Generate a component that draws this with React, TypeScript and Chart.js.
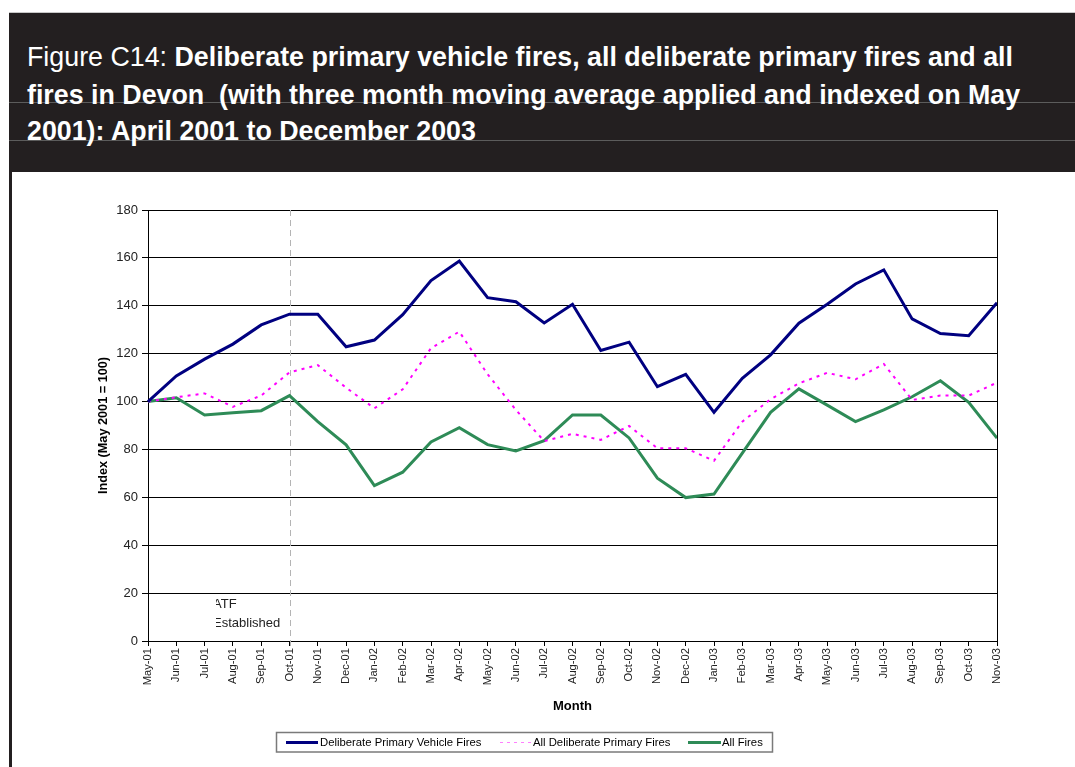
import React, { useEffect, useRef } from "react";
import { Chart, registerables } from "chart.js";

Chart.register(...registerables);

const months = [
  "May-01", "Jun-01", "Jul-01", "Aug-01", "Sep-01", "Oct-01", "Nov-01", "Dec-01",
  "Jan-02", "Feb-02", "Mar-02", "Apr-02", "May-02", "Jun-02", "Jul-02", "Aug-02",
  "Sep-02", "Oct-02", "Nov-02", "Dec-02", "Jan-03", "Feb-03", "Mar-03", "Apr-03",
  "May-03", "Jun-03", "Jul-03", "Aug-03", "Sep-03", "Oct-03", "Nov-03",
];

const vehicleFires = [
  100, 110.7, 117.7, 124, 132, 136.5, 136.5, 122.9,
  125.7, 136.3, 150.5, 158.7, 143.4, 141.7, 132.8, 140.6,
  121.3, 124.8, 106.2, 111.4, 95.5, 109.7, 119.5, 132.7,
  140.6, 149.1, 155, 134.5, 128.4, 127.5, 141.3,
];

const allDeliberateFires = [
  100, 101.8, 103.4, 97.8, 102.5, 112.2, 115.2, 105.8,
  97.2, 105.1, 122.3, 129.2, 111.4, 96.5, 83.5, 86.5,
  84, 89.8, 80.5, 80.5, 75.3, 91.6, 101, 107.6,
  112, 109.3, 115.7, 100.7, 102.5, 102.5, 107.9,
];

const allFires = [
  100, 101.6, 94.4, 95.3, 96.2, 102.5, 91.6, 81.9,
  64.9, 70.5, 83.1, 89.1, 82, 79.4, 83.7, 94.4,
  94.4, 84.8, 68, 59.9, 61.4, 78.5, 95.5, 105.3,
  98.5, 91.6, 96.5, 102, 108.7, 99.7, 84.7,
];

const seriesLabels = [
  "Deliberate Primary Vehicle Fires",
  "All Deliberate Primary Fires",
  "All Fires",
];

const yMin = 0;
const yMax = 180;
const yStep = 20;

const atfMonthIndex = 5; // Oct-01
const atfLabelLines = ["ATF", "Established"];

const xAxisTitle = "Month";
const yAxisTitle = "Index (May 2001 = 100)";

const FONT = "'Liberation Sans', Arial, Helvetica, sans-serif";

const extrasPlugin = {
  id: "extras",
  beforeDatasetsDraw(chart: any) {
    const { ctx, chartArea, scales } = chart;
    const x = Math.round(scales.x.getPixelForValue(atfMonthIndex)) + 0.5;
    ctx.save();
    ctx.strokeStyle = "#b4b4b4";
    ctx.lineWidth = 1;
    ctx.setLineDash([6, 4]);
    ctx.beginPath();
    ctx.moveTo(x, chartArea.top);
    ctx.lineTo(x, chartArea.bottom + 5);
    ctx.stroke();
    ctx.restore();

    ctx.save();
    ctx.beginPath();
    ctx.rect(x - 74.5, chartArea.top, 74, chartArea.bottom - chartArea.top);
    ctx.clip();
    ctx.fillStyle = "#222";
    ctx.font = `13px ${FONT}`;
    ctx.textAlign = "left";
    ctx.textBaseline = "middle";
    ctx.fillText(atfLabelLines[0], x - 77.5, chartArea.bottom - 37);
    ctx.fillText(atfLabelLines[1], x - 77.5, chartArea.bottom - 18);
    ctx.restore();
  },
  afterDraw(chart: any) {
    const { ctx, chartArea } = chart;
    ctx.save();
    // right border of plot
    ctx.strokeStyle = "#000";
    ctx.lineWidth = 1;
    ctx.beginPath();
    const rx = Math.round(chartArea.right) + 0.5;
    ctx.moveTo(rx, chartArea.top);
    ctx.lineTo(rx, chartArea.bottom);
    ctx.stroke();

    // legend
    const bx = 276.5, by = 732.5, bw = 496, bh = 19.5;
    ctx.strokeStyle = "#7a7a7a";
    ctx.lineWidth = 1.5;
    ctx.strokeRect(bx, by, bw, bh);
    const items = [
      { x0: 286, x1: 318, tx: 320 },
      { x0: 500, x1: 532, tx: 533 },
      { x0: 688, x1: 721, tx: 722 },
    ];
    const ly = 742.5;
    ctx.font = `11.3px ${FONT}`;
    ctx.textBaseline = "middle";
    ctx.textAlign = "left";
    chart.data.datasets.forEach((ds: any, i: number) => {
      const it = items[i];
      ctx.save();
      ctx.strokeStyle = ds.borderColor;
      ctx.lineWidth = i === 1 ? 1.2 : 3;
      ctx.setLineDash(i === 1 ? [3, 4] : []);
      if (i === 1) ctx.globalAlpha = 0.5;
      ctx.beginPath();
      ctx.moveTo(it.x0, ly);
      ctx.lineTo(it.x1, ly);
      ctx.stroke();
      ctx.restore();
      ctx.fillStyle = "#000";
      ctx.fillText(ds.label, it.tx, ly);
    });
    ctx.restore();
  },
};

export default function App() {
  const canvasRef = useRef<HTMLCanvasElement | null>(null);

  useEffect(() => {
    if (!canvasRef.current) return;
    const chart = new Chart(canvasRef.current, {
      type: "line",
      data: {
        labels: months,
        datasets: [
          {
            label: seriesLabels[0],
            data: vehicleFires,
            borderColor: "#000080",
            borderWidth: 3,
            pointRadius: 0,
            tension: 0,
            fill: false,
          },
          {
            label: seriesLabels[1],
            data: allDeliberateFires,
            borderColor: "#ff00ff",
            borderWidth: 2,
            borderDash: [3, 5],
            pointRadius: 0,
            tension: 0,
            fill: false,
          },
          {
            label: seriesLabels[2],
            data: allFires,
            borderColor: "#2e8b57",
            borderWidth: 3,
            pointRadius: 0,
            tension: 0,
            fill: false,
          },
        ],
      },
      options: {
        animation: false,
        responsive: false,
        maintainAspectRatio: false,
        layout: { padding: { left: 0, top: 210, right: 78, bottom: 46 } },
        plugins: {
          legend: { display: false },
          tooltip: { enabled: false },
          title: { display: false },
        },
        scales: {
          x: {
            type: "category",
            offset: false,
            grid: {
              display: true,
              drawOnChartArea: false,
              drawTicks: true,
              tickLength: 5,
              color: "#000",
              lineWidth: 1,
            },
            border: { display: true, color: "#000", width: 1 },
            ticks: {
              autoSkip: false,
              maxRotation: 90,
              minRotation: 90,
              padding: 2,
              color: "#222",
              font: { family: FONT, size: 11.2 },
            },
            title: {
              display: true,
              text: xAxisTitle,
              color: "#000",
              font: { family: FONT, size: 13, weight: "bold" },
              padding: { top: 0, bottom: 7 },
            },
            afterFit: (s: any) => {
              s.height = 80;
            },
          },
          y: {
            min: yMin,
            max: yMax,
            ticks: {
              stepSize: yStep,
              padding: 4,
              color: "#222",
              font: { family: FONT, size: 13 },
            },
            grid: { color: "#000", lineWidth: 1, tickLength: 6, drawTicks: true },
            border: { display: true, color: "#000", width: 1 },
            title: {
              display: true,
              text: yAxisTitle,
              color: "#000",
              font: { family: FONT, size: 12.7, weight: "bold" },
              padding: { top: 96, bottom: 0 },
            },
            afterFit: (s: any) => {
              s.width = 148;
            },
          },
        },
      },
      plugins: [extrasPlugin],
    } as any);
    return () => chart.destroy();
  }, []);

  const titleLine: React.CSSProperties = {
    position: "absolute",
    left: 18,
    color: "#fff",
    fontFamily: FONT,
    fontSize: 26.8,
    lineHeight: "27px",
    whiteSpace: "pre",
  };

  return (
    <div
      style={{
        position: "absolute",
        left: 0,
        top: 0,
        width: 1075,
        height: 767,
        overflow: "hidden",
        background: "#fff",
      }}
    >
      <canvas
        ref={canvasRef}
        width={1075}
        height={767}
        style={{ position: "absolute", left: 0, top: 0, width: 1075, height: 767 }}
      />
      <div
        style={{
          position: "absolute",
          left: 9,
          top: 172,
          width: 3,
          height: 595,
          background: "#231f20",
        }}
      />
      <div
        style={{
          position: "absolute",
          left: 9,
          top: 12,
          width: 1066,
          height: 160,
          background: "#231f20",
          borderTop: "1px solid #c8c8c8",
          boxSizing: "border-box",
        }}
      >
        <div style={{ position: "absolute", left: 0, right: 0, top: 89, height: 1, background: "#5c5c5c" }} />
        <div style={{ position: "absolute", left: 0, right: 0, top: 127, height: 1, background: "#5c5c5c" }} />
        <div style={{ ...titleLine, top: 31 }}>
          Figure C14: <b>Deliberate primary vehicle fires, all deliberate primary fires and all</b>
        </div>
        <div style={{ ...titleLine, top: 69, fontWeight: "bold" }}>
          {"fires in Devon  (with three month moving average applied and indexed on May"}
        </div>
        <div style={{ ...titleLine, top: 105, fontWeight: "bold" }}>
          {"2001): April 2001 to December 2003"}
        </div>
      </div>
    </div>
  );
}
